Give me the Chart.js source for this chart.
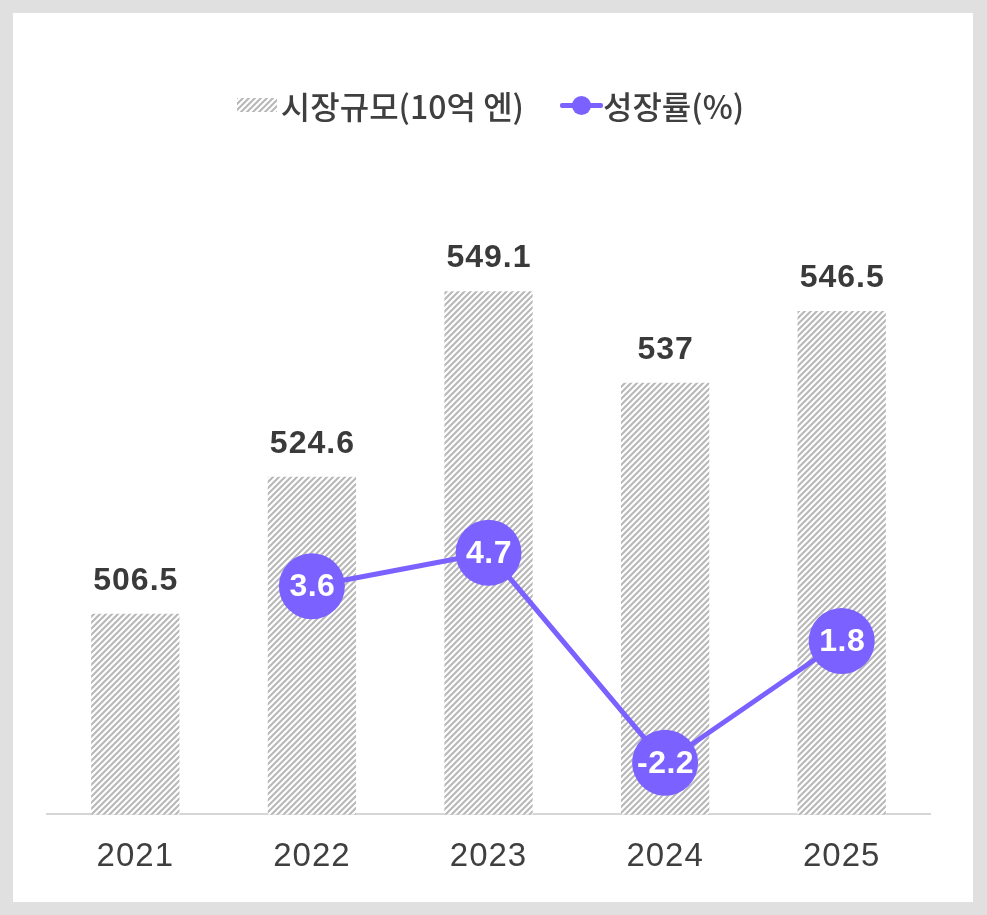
<!DOCTYPE html>
<html><head><meta charset="utf-8">
<script src="https://cdn.jsdelivr.net/npm/chart.js@4.4.1/dist/chart.umd.min.js"></script>
<style>
html,body{margin:0;padding:0;background:#e0e0e0;width:987px;height:915px;overflow:hidden}
#card{position:absolute;left:13px;top:13px;width:960px;height:889px;background:#fff}
#wrap{position:absolute;left:0;top:0;width:987px;height:915px}
#legend{position:absolute;left:0;top:84px;width:981px;height:42px;display:flex;justify-content:center;align-items:center;font-family:'Noto Sans CJK KR','Noto Sans',sans-serif;font-size:32px;font-weight:500;color:#3f3f3f;white-space:nowrap}
.item{display:flex;align-items:center}
.item + .item{margin-left:36px}
.box{width:40px;height:14px;margin-right:4px}
.lineicon{position:relative;width:43px;height:20px;margin-right:0}
.lineicon .ln{position:absolute;left:0;top:8px;width:43px;height:5px;border-radius:2px}
.lineicon .dot{position:absolute;left:12px;top:1px;width:19px;height:19px;border-radius:50%}
</style></head>
<body>
<div id="card"></div>
<div id="wrap"><canvas id="c" width="987" height="915"></canvas></div>
<div id="legend"></div>
<script>
const years = ['2021', '2022', '2023', '2024', '2025'];
const marketSize = [506.5, 524.6, 549.1, 537, 546.5];
const growthRate = [null, 3.6, 4.7, -2.2, 1.8];
const seriesLabels = ['시장규모(10억 엔)', '성장률(%)'];

const PURPLE = '#7b61ff';

function makePatternCanvas() {
  const c = document.createElement('canvas');
  c.width = 6; c.height = 6;
  const g = c.getContext('2d');
  g.fillStyle = '#ffffff';
  g.fillRect(0, 0, 6, 6);
  g.strokeStyle = '#b8b8b8';
  g.lineWidth = 2.1;
  g.beginPath();
  g.moveTo(-1, 7); g.lineTo(7, -1);
  g.moveTo(-4, 4); g.lineTo(4, -4);
  g.moveTo(2, 10); g.lineTo(10, 2);
  g.stroke();
  return c;
}
const patCanvas = makePatternCanvas();
const ctx0 = document.getElementById('c').getContext('2d');
const barPattern = ctx0.createPattern(patCanvas, 'repeat');

const labelPlugin = {
  id: 'valueLabels',
  afterDatasetsDraw(chart) {
    const ctx = chart.ctx;
    ctx.save();
    const barMeta = chart.getDatasetMeta(0);
    ctx.textAlign = 'center';
    ctx.textBaseline = 'alphabetic';
    ctx.fillStyle = '#3a3a3a';
    ctx.font = 'bold 32px "Liberation Sans", Arial, sans-serif';
    ctx.letterSpacing = '1px';
    barMeta.data.forEach((el, i) => {
      ctx.fillText(String(chart.data.datasets[0].data[i]), el.x + 0.5, el.y - 24);
    });
    const lineMeta = chart.getDatasetMeta(1);
    ctx.fillStyle = '#ffffff';
    ctx.font = 'bold 32px "Liberation Sans", Arial, sans-serif';
    ctx.letterSpacing = '0.5px';
    ctx.textBaseline = 'middle';
    lineMeta.data.forEach((el, i) => {
      const v = chart.data.datasets[1].data[i];
      if (v === null || v === undefined) return;
      ctx.fillText(String(v), el.x + 0.5, el.y + 1);
    });
    ctx.restore();
  },
  beforeDraw(chart) {
    chart.ctx.letterSpacing = '1px';
  }
};

const chart = new Chart(document.getElementById('c'), {
  data: {
    labels: years,
    datasets: [
      {
        type: 'bar',
        label: seriesLabels[0],
        data: marketSize,
        backgroundColor: barPattern,
        borderWidth: 0,
        barPercentage: 1,
        categoryPercentage: 0.5,
        yAxisID: 'y',
        order: 2
      },
      {
        type: 'line',
        label: seriesLabels[1],
        data: growthRate,
        borderColor: PURPLE,
        backgroundColor: PURPLE,
        borderWidth: 5,
        pointRadius: 33,
        pointHoverRadius: 33,
        pointBorderWidth: 0,
        pointBackgroundColor: PURPLE,
        tension: 0,
        yAxisID: 'y1',
        order: 1
      }
    ]
  },
  options: {
    responsive: false,
    animation: false,
    events: [],
    layout: { padding: { left: 47, right: 57, top: 133, bottom: 15 } },
    plugins: { legend: { display: false }, tooltip: { enabled: false } },
    scales: {
      x: {
        grid: { display: false, drawTicks: false },
        border: { display: true, color: '#d6d6d6', width: 2 },
        ticks: {
          color: '#3f3f3f',
          padding: 23,
          font: { family: '"Liberation Sans", Arial, sans-serif', size: 33 }
        }
      },
      y: { display: false, min: 480, max: 570 },
      y1: { display: false, min: -3.9, max: 18.5 }
    }
  },
  plugins: [labelPlugin]
});

// HTML legend built from the chart's datasets
const legend = document.getElementById('legend');
const patURL = patCanvas.toDataURL();
chart.data.datasets.forEach((ds) => {
  const item = document.createElement('div');
  item.className = 'item';
  if (ds.type === 'bar') {
    const b = document.createElement('div');
    b.className = 'box';
    b.style.backgroundImage = 'url(' + patURL + ')';
    item.appendChild(b);
  } else {
    const li = document.createElement('div');
    li.className = 'lineicon';
    li.innerHTML = '<div class="ln" style="background:' + ds.borderColor + '"></div><div class="dot" style="background:' + ds.borderColor + '"></div>';
    item.appendChild(li);
  }
  const t = document.createElement('span');
  t.textContent = ds.label;
  item.appendChild(t);
  legend.appendChild(item);
});
</script>
</body></html>
